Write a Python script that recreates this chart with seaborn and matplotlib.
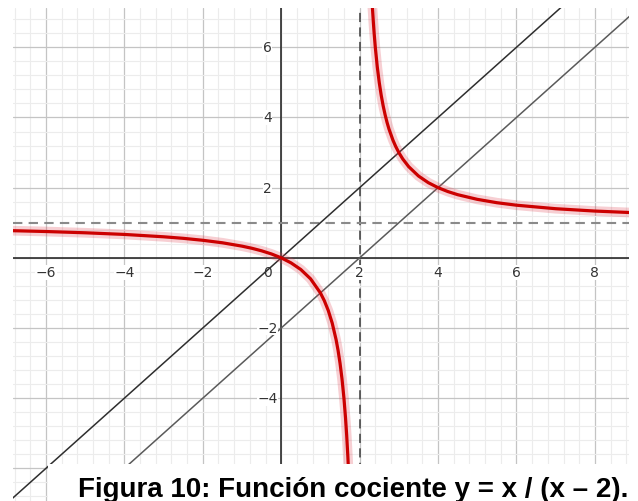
import matplotlib
matplotlib.use("Agg")
import matplotlib.pyplot as plt
import seaborn as sns
import pandas as pd
import numpy as np
from matplotlib.patches import Rectangle

# ---- data ----
left_x = [-6.9, -6, -5, -4, -3, -2.5, -2, -1.5, -1, -0.75, -0.5, -0.25, 0,
          0.25, 0.5, 0.75, 1.0, 1.1, 1.2, 1.3, 1.4, 1.45, 1.5, 1.55, 1.6, 1.64,
          1.67, 1.7, 1.72, 1.74, 1.76]
left_y = [0.775, 0.75, 0.714, 0.667, 0.6, 0.556, 0.5, 0.429, 0.333, 0.273, 0.2, 0.111, 0,
          -0.143, -0.333, -0.6, -1.0, -1.222, -1.5, -1.857, -2.333, -2.636, -3.0, -3.444,
          -4.0, -4.556, -5.06, -5.667, -6.14, -6.69, -7.33]
right_x = [2.27, 2.29, 2.32, 2.35, 2.37, 2.4, 2.45, 2.5, 2.55, 2.6, 2.65, 2.7, 2.75,
           2.85, 2.92, 3.0, 3.1, 3.25, 3.5, 3.75, 4.0, 4.25, 4.5, 5.0, 5.5, 6.0,
           7.0, 8.0, 9.0]
right_y = [8.41, 7.897, 7.25, 6.714, 6.405, 6.0, 5.444, 5.0, 4.636, 4.333, 4.077, 3.857,
           3.667, 3.353, 3.174, 3.0, 2.818, 2.6, 2.333, 2.143, 2.0, 1.889, 1.8, 1.667,
           1.571, 1.5, 1.4, 1.333, 1.286]
line1_x = [-8, 10]
line1_y = [-8, 10]          # y = x
line2_x = [-8, 10]
line2_y = [-10, 8]          # y = x - 2
asym_v = 2                  # x = 2
asym_h = 1                  # y = 1
x_tick_vals = [-6, -4, -2, 2, 4, 6, 8]
y_tick_vals = [-4, -2, 2, 4, 6]
caption = "Figura 10: Función cociente y = x / (x – 2)."

sns.set_style("white")

fig = plt.figure(figsize=(6.38, 5.02), dpi=100)
ax = fig.add_axes([13/638, 0, 616/638, 493/502])
ax.set_xlim(-6.84, 8.87)
ax.set_ylim(-6.93, 7.12)
for s in ax.spines.values():
    s.set_visible(False)

ax.set_xticks(np.arange(-6, 9, 2))
ax.set_yticks(np.arange(-6, 8, 2))
ax.set_xticks(np.arange(-6.8, 9, 0.4), minor=True)
ax.set_yticks(np.arange(-6.8, 7.2, 0.4), minor=True)
ax.grid(which="major", color="#c4c4c4", lw=0.9, zorder=0)
ax.grid(which="minor", color="#ececec", lw=0.8, zorder=0)
ax.set_axisbelow(True)
ax.tick_params(which="both", length=0, labelbottom=False, labelleft=False)

# axes
ax.axhline(0, color="#2b2b2b", lw=1.2, zorder=2)
ax.axvline(0, color="#2b2b2b", lw=1.2, zorder=2)

# asymptotes
ax.axvline(asym_v, color="#3a3a3a", lw=1.1, dashes=(6, 3.5), zorder=3)
ax.axhline(asym_h, color="#8a8a8a", lw=1.5, dashes=(4.5, 3), zorder=3)

# straight lines
d1 = pd.DataFrame({"x": line1_x, "y": line1_y})
d2 = pd.DataFrame({"x": line2_x, "y": line2_y})
sns.lineplot(data=d1, x="x", y="y", ax=ax, color="#2e2e2e", lw=1.1,
             sort=False, estimator=None, zorder=4)
sns.lineplot(data=d2, x="x", y="y", ax=ax, color="#5a5a5a", lw=1.1,
             sort=False, estimator=None, zorder=4)

# curve with highlight halo
for bx, by in [(left_x, left_y), (right_x, right_y)]:
    df = pd.DataFrame({"x": bx, "y": by})
    sns.lineplot(data=df, x="x", y="y", ax=ax, color="#e04050", lw=7, alpha=0.25,
                 sort=False, estimator=None, zorder=5)
    sns.lineplot(data=df, x="x", y="y", ax=ax, color="#cc0000", lw=2.3,
                 sort=False, estimator=None, zorder=6)

ax.set_xlabel("")
ax.set_ylabel("")

# tick labels (GeoGebra style)
lab_kw = dict(fontsize=10, color="#333333", family="DejaVu Sans",
              bbox=dict(facecolor="white", edgecolor="none", pad=0.3), zorder=7)
for v in x_tick_vals:
    ax.annotate(str(v).replace("-", "\u2212"), (v, 0), xytext=(0, -10.5),
                textcoords="offset points", ha="center", va="center", **lab_kw)
for v in y_tick_vals:
    ax.annotate(str(v).replace("-", "\u2212"), (0, v), xytext=(-10, 0),
                textcoords="offset points", ha="center", va="center", **lab_kw)
ax.annotate("0", (0, 0), xytext=(-10, -10.5), textcoords="offset points",
            ha="center", va="center", fontsize=10, color="#333333", zorder=7)

# caption box
fig.patches.append(Rectangle((48/638, 0), 1 - 48/638, 37/502, transform=fig.transFigure,
                             facecolor="white", edgecolor="none", zorder=10))
fig.text(353/638, 5/502, caption, ha="center", va="baseline", fontsize=20,
         fontweight="bold", family="Liberation Sans", color="black", zorder=11)

fig.savefig("out.png", dpi=100)
